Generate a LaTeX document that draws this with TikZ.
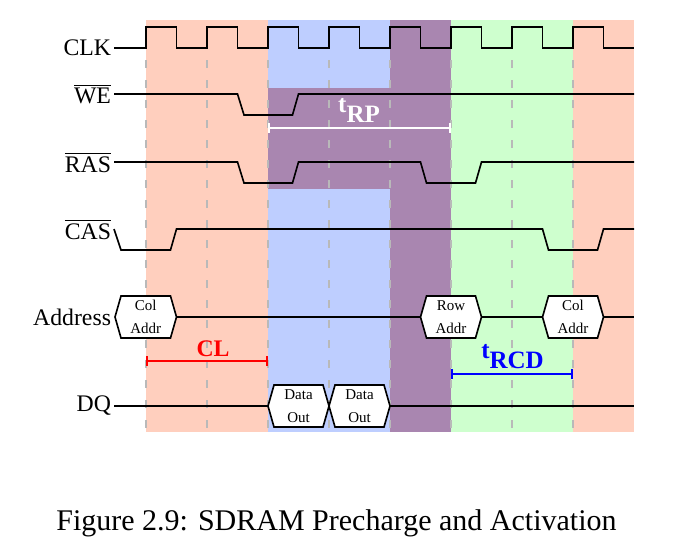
\documentclass[tikz,border=0pt]{standalone}
\usepackage{fontspec}
\setmainfont{Liberation Serif}
\usepackage{amsmath}
\usepackage{tikz}
\usetikzlibrary{arrows.meta,calc,positioning}
\definecolor{clred}{RGB}{255,207,190}
\definecolor{clblue}{RGB}{190,206,255}
\definecolor{clgreen}{RGB}{206,255,206}
\definecolor{clpurple}{RGB}{169,134,176}
\tikzset{sig/.style={draw=black, line width=0.65pt, line join=miter}}
\tikzstyle{tickline}=[gray!55, line width=0.6pt, dash pattern=on 3.2pt off 4.8pt]
\tikzstyle{lbl}=[anchor=east, inner sep=1pt, font=\fontsize{9.5}{11}\selectfont]
\tikzstyle{busval}=[align=center, inner sep=0pt, font=\fontsize{6}{9.2}\selectfont]
\tikzstyle{intvl}=[line width=0.65pt, {Bar[width=4pt]}-{Bar[width=4pt]}]
\newcommand{\hexbus}[5]{%
  \draw[sig, fill=white] (#2,#4) -- (#2+6,#4-21) -- (#3-6,#4-21) -- (#3,#4)
    -- (#3-6,#4+21) -- (#2+6,#4+21) -- cycle;
  \node[busval] (#1) at ({(#2+#3)/2},#4) {#5};}

\begin{document}
\begin{tikzpicture}[x=0.4pt, y=-0.4pt]
\useasboundingbox (0,0) rectangle (690,554);
\fill[clred] (146,20) rectangle (268,432);
\fill[clblue] (268,20) rectangle (390,432);
\fill[clpurple] (390,20) rectangle (451,432);
\fill[clgreen] (451,20) rectangle (573,432);
\fill[clred] (573,20) rectangle (634,432);
\fill[clpurple] (268,88) rectangle (390,189);
\foreach \i in {0,...,7}
  \draw[tickline] (146+61*\i,60) -- (146+61*\i,432);

\node[lbl] (clk) at (114,48) {CLK};
\node[lbl] (we) at (114,94) {$\overline{\mbox{WE}}$};
\node[lbl] (ras) at (114,162) {$\overline{\mbox{RAS}}$};
\node[lbl] (cas) at (114,229) {$\overline{\mbox{CAS}}$};
\node[lbl] (addr) at (114,317) {Address};
\node[lbl] (dq) at (114,406) {DQ};

\draw[sig] (clk.east) -- (146,48)
  \foreach \i in {0,...,7} { -- ++(0,-21) -- ++(30.5,0) -- ++(0,21) -- ++(30.5,0) };
\draw[sig] (we.east) -- (237.5,94) -- (244,115) -- (292.5,115) -- (298.5,94) -- (634,94);
\draw[sig] (ras.east) -- (237.5,162) -- (244,183) -- (292.5,183) -- (298.5,162)
  -- (420.5,162) -- (426.5,183) -- (475.5,183) -- (481.5,162) -- (634,162);
\draw[sig] (cas.east) -- (121,250) -- (170.5,250) -- (176.5,229) -- (542.5,229)
  -- (548.5,250) -- (597.5,250) -- (603.5,229) -- (634,229);
\draw[sig] (176.5,317) -- (634,317);
\draw[sig] (dq.east) -- (634,406);

\hexbus{col1}{115}{176.5}{317}{Col\\Addr}
\hexbus{row}{420.5}{481.5}{317}{Row\\Addr}
\hexbus{col2}{542.5}{603.5}{317}{Col\\Addr}
\hexbus{data1}{268}{329}{406}{Data\\Out}
\hexbus{data2}{329}{390}{406}{Data\\Out}

\coordinate (cl0) at (146,361);
\coordinate (cl1) at (268,361);
\coordinate (rp0) at (268,128);
\coordinate (rp1) at (451,128);
\coordinate (rcd0) at (451,374);
\coordinate (rcd1) at (573,374);
\draw[intvl, red] (cl0) -- (cl1);
\draw[intvl, white] (rp0) -- (rp1);
\draw[intvl, blue] (rcd0) -- (rcd1);
\node[red, font=\fontsize{9.5}{11}\selectfont\bfseries] (cl) at (213,349) {CL};
\node[white, inner sep=0pt, font=\fontsize{10}{12}\selectfont\bfseries] (trp) at (359,110)
  {t\raisebox{-0.4em}{RP}};
\node[blue, inner sep=0pt, font=\fontsize{10}{12}\selectfont\bfseries] (trcd) at (512.5,357)
  {t\raisebox{-0.4em}{RCD}};

\node[anchor=base, font=\fontsize{12}{14}\selectfont] (caption) at (336.5,530.7)
  {Figure 2.9: SDRAM Precharge and Activation};
\end{tikzpicture}
\end{document}
